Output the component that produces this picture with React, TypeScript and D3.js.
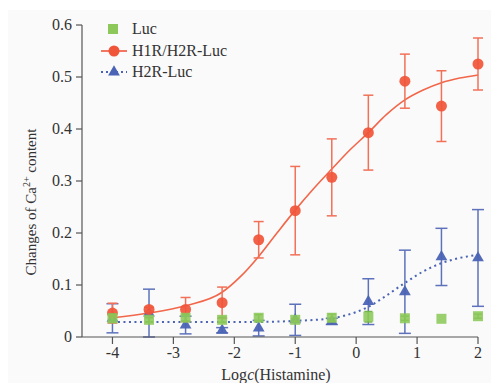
import { useMemo } from "react";
import * as d3 from "d3";

const doses = [-4, -3.4, -2.8, -2.2, -1.6, -1, -0.4, 0.2, 0.8, 1.4, 2];

const lucMean = [0.036, 0.033, 0.037, 0.033, 0.037, 0.033, 0.037, 0.039, 0.036, 0.035, 0.04];
const lucErr = [0.008, 0.004, 0.006, 0.005, 0.006, 0.003, 0.007, 0.01, 0.004, 0, 0.004];

const h1Mean = [0.046, 0.053, 0.053, 0.066, 0.187, 0.243, 0.307, 0.393, 0.492, 0.444, 0.525];
const h1Err = [0.019, 0.004, 0.023, 0.03, 0.035, 0.085, 0.074, 0.072, 0.052, 0.068, 0.05];

const h2Mean = [0.036, 0.046, 0.023, 0.013, 0.017, 0.033, 0.03, 0.068, 0.087, 0.154, 0.152];
const h2Err = [0.028, 0.046, 0.017, 0.005, 0.015, 0.03, 0.006, 0.044, 0.08, 0.055, 0.093];

// fitted curves
const h1FitX = [-4, -3.4, -2.8, -2.2, -1.9, -1.6, -1.3, -1, -0.7, -0.4, -0.1, 0.2, 0.5, 0.8, 1.1, 1.4, 1.7, 2];
const h1FitY = [0.037, 0.046, 0.06, 0.086, 0.116, 0.155, 0.2, 0.244, 0.285, 0.323, 0.36, 0.393, 0.428, 0.456, 0.475, 0.489, 0.498, 0.504];
const h2FitX = [-4, -3, -2, -1.6, -1, -0.4, 0, 0.2, 0.5, 0.8, 1.1, 1.4, 1.7, 2];
const h2FitY = [0.029, 0.029, 0.029, 0.029, 0.031, 0.036, 0.048, 0.058, 0.08, 0.104, 0.126, 0.142, 0.152, 0.158];

const xTicks = [-4, -3, -2, -1, 0, 1, 2];
const yTicks = [0, 0.1, 0.2, 0.3, 0.4, 0.5, 0.6];

const RED = "#f0553a";
const RED_BAR = "#f27058";
const BLUE = "#4a63b4";
const BLUE_BAR = "#5d72bb";
const GREEN = "#8cc85a";
const GREEN_BAR = "#6fae45";
const AXIS = "#555";
const FONT = "'Liberation Serif', 'Times New Roman', serif";

export default function App() {
  const width = 491;
  const height = 383;
  const x = d3.scaleLinear().domain([-4.5, 2]).range([82, 478]);
  const y = d3.scaleLinear().domain([0, 0.6]).range([337, 25]);

  const fitLine = d3
    .line<[number, number]>()
    .x((d) => x(d[0]))
    .y((d) => y(d[1]))
    .curve(d3.curveMonotoneX);

  const sq = d3.symbol(d3.symbolSquare, 100)() ?? "";
  const circ = d3.symbol(d3.symbolCircle, 95)() ?? "";
  const tri = d3.symbol(d3.symbolTriangle, 60)() ?? "";

  const series = useMemo(
    () => [
      { key: "h2", mean: h2Mean, err: h2Err, bar: BLUE_BAR, fill: BLUE, shape: tri, cap: 6, opacity: 0.95 },
      { key: "h1", mean: h1Mean, err: h1Err, bar: RED_BAR, fill: RED, shape: circ, cap: 5, opacity: 0.92 },
      { key: "luc", mean: lucMean, err: lucErr, bar: GREEN_BAR, fill: GREEN, shape: sq, cap: 4, opacity: 0.88 },
    ],
    [sq, circ, tri]
  );

  return (
    <div style={{ position: "fixed", left: 0, top: 0 }}>
      <svg width={width} height={height} fontFamily={FONT}>
        <rect x={0} y={0} width={width} height={height} fill="#fff" />
        <rect x={8} y={10} width={width - 8} height={height - 10} fill="#fafafa" />

        {/* fitted curves */}
        <path d={fitLine(h2FitX.map((v, i) => [v, h2FitY[i]])) ?? ""} fill="none" stroke={BLUE} strokeWidth={2} strokeDasharray="2,3.5" />
        <path d={fitLine(h1FitX.map((v, i) => [v, h1FitY[i]])) ?? ""} fill="none" stroke="#f2664a" strokeWidth={1.6} />

        {/* error bars and markers */}
        {series.map((s) => (
          <g key={s.key}>
            {doses.map((d, i) =>
              s.err[i] > 0 ? (
                <g key={d} stroke={s.bar} strokeWidth={1.5}>
                  <line x1={x(d)} x2={x(d)} y1={y(s.mean[i] - s.err[i])} y2={y(s.mean[i] + s.err[i])} />
                  <line x1={x(d) - s.cap} x2={x(d) + s.cap} y1={y(s.mean[i] + s.err[i])} y2={y(s.mean[i] + s.err[i])} />
                  <line x1={x(d) - s.cap} x2={x(d) + s.cap} y1={y(s.mean[i] - s.err[i])} y2={y(s.mean[i] - s.err[i])} />
                </g>
              ) : null
            )}
            {doses.map((d, i) => (
              <path key={d} d={s.shape} transform={`translate(${x(d)},${y(s.mean[i])})`} fill={s.fill} fillOpacity={s.opacity} />
            ))}
          </g>
        ))}

        {/* y axis */}
        <line x1={82} x2={82} y1={y(0.6)} y2={y(0)} stroke={AXIS} strokeWidth={1.2} />
        {yTicks.map((t) => (
          <g key={t}>
            <line x1={76} x2={82} y1={y(t)} y2={y(t)} stroke={AXIS} strokeWidth={1.2} />
            <text x={72} y={y(t)} dy="0.33em" textAnchor="end" fontSize={16} fill="#333">
              {t === 0 ? "0" : t.toFixed(1)}
            </text>
          </g>
        ))}

        {/* x axis */}
        <line x1={82} x2={x(2)} y1={y(0)} y2={y(0)} stroke={AXIS} strokeWidth={1.2} />
        {xTicks.map((t) => (
          <g key={t}>
            <line x1={x(t)} x2={x(t)} y1={y(0)} y2={y(0) + 7} stroke={AXIS} strokeWidth={1.2} />
            <text x={x(t)} y={358} textAnchor="middle" fontSize={16} fill="#333">
              {t}
            </text>
          </g>
        ))}

        <text x={276} y={380} textAnchor="middle" fontSize={16} fill="#333">
          Log<tspan fontStyle="italic">c</tspan>(Histamine)
        </text>
        <text transform="translate(36,202) rotate(-90)" textAnchor="middle" fontSize={15} fill="#333">
          Changes of Ca<tspan fontSize={10} dy={-6}>2+</tspan>
          <tspan dy={6}> content</tspan>
        </text>

        {/* legend */}
        <path d={sq} transform="translate(113,29)" fill={GREEN} />
        <text x={132} y={29} dy="0.33em" fontSize={16} fill="#333">Luc</text>
        <line x1={101} x2={127} y1={51} y2={51} stroke={RED} strokeWidth={1.6} />
        <path d={circ} transform="translate(114,51)" fill={RED} />
        <text x={132} y={51} dy="0.33em" fontSize={16} fill="#333">H1R/H2R-Luc</text>
        <line x1={101} x2={127} y1={72} y2={72} stroke={BLUE} strokeWidth={2} strokeDasharray="2,3" />
        <path d={tri} transform="translate(114,72)" fill={BLUE} />
        <text x={132} y={72} dy="0.33em" fontSize={16} fill="#333">H2R-Luc</text>
      </svg>
    </div>
  );
}
